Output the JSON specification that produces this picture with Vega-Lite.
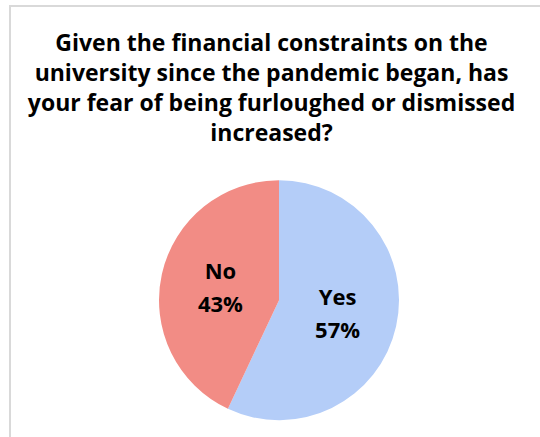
{
  "$schema": "https://vega.github.io/schema/vega-lite/v6.json",
  "width": 531,
  "height": 432,
  "autosize": "none",
  "padding": {"left": 10, "top": 6, "right": -1, "bottom": -1},
  "background": "white",
  "config": {"view": {"stroke": "#d9d9d9", "strokeWidth": 2}},
  "title": {
    "text": ["Given the financial constraints on the", "university since the pandemic began, has", "your fear of being furloughed or dismissed", "increased?"],
    "font": "Open Sans",
    "fontSize": 23,
    "fontWeight": "bold",
    "color": "#000000",
    "anchor": "middle",
    "lineHeight": 30,
    "baseline": "top",
    "offset": -140,
    "dx": -4
  },
  "data": {
    "values": [
      {"answer": "Yes", "percent": 57, "label": "Yes\n57%"},
      {"answer": "No", "percent": 43, "label": "No\n43%"}
    ]
  },
  "encoding": {
    "theta": {"field": "percent", "type": "quantitative", "stack": true},
    "order": {"field": "answer", "sort": "descending"},
    "x": {"datum": 0.5066, "type": "quantitative", "scale": {"domain": [0, 1]}, "axis": null},
    "y": {"datum": 0.319, "type": "quantitative", "scale": {"domain": [0, 1]}, "axis": null}
  },
  "layer": [
    {
      "mark": {"type": "arc", "outerRadius": 120},
      "encoding": {
        "color": {"field": "answer", "type": "nominal", "scale": {"domain": ["Yes", "No"], "range": ["#B4CDF8", "#F28C85"]}, "legend": null}
      }
    },
    {
      "mark": {"type": "text", "radius": 60, "dy": -15, "lineBreak": "\n", "font": "Open Sans", "fontSize": 22, "fontWeight": "bold", "lineHeight": 33, "color": "#000000"},
      "encoding": {"text": {"field": "label", "type": "nominal"}}
    }
  ]
}
